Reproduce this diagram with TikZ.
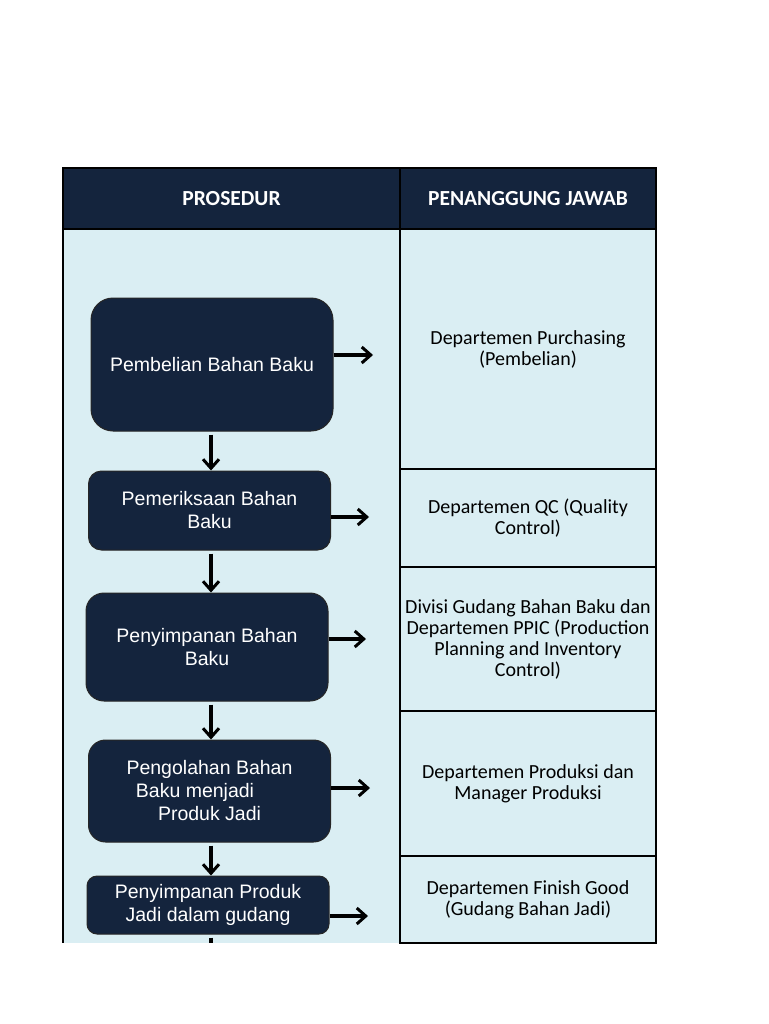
\documentclass[tikz,border=0pt]{standalone}
\usepackage{fontspec}
\setmainfont{Carlito}
\newfontfamily\boxfont{Liberation Sans}
\usetikzlibrary{arrows.meta}
\definecolor{navy}{HTML}{14243D}
\definecolor{paleblue}{HTML}{DAEEF3}

\begin{document}
\begin{tikzpicture}[x=1pt,y=-1pt,
    langkah/.style={rounded corners=#1,fill=navy,draw=black!85,line width=1pt,text=white,
        minimum width=242pt,align=center,font=\boxfont\fontsize{19.5}{23}\selectfont},
    kepala/.style={fill=navy,draw=black,line width=1.5pt,text=white,minimum height=61pt,
        font=\fontsize{21.5}{24}\selectfont\bfseries},
    sel/.style={fill=paleblue,draw=black,line width=1.5pt,minimum width=256pt,align=center,
        font=\fontsize{20}{21}\selectfont},
    panah/.style={line width=3.5pt,-{Straight Barb[length=9pt,width=16pt,line width=3pt]}}]
                \fill[white] (0,0) rectangle (768,1024);
                \useasboundingbox (0,0) rectangle (768,1024);
                % left column
                \fill[paleblue] (63,229) rectangle (400,943);
                \draw[line width=1.5pt] (63,229) -- (63,943);
                % header
                \node[kepala,minimum width=337pt] (hp) at (231.5,198.5) {PROSEDUR};
                \node[kepala,minimum width=256pt] (hq) at (528,198.5) {PENANGGUNG JAWAB};
                % right column
                \node[sel,minimum height=240pt] (r1) at (528,349) {Departemen Purchasing\\(Pembelian)};
                \node[sel,minimum height=98pt] (r2) at (528,518) {Departemen QC (Quality\\Control)};
                \node[sel,minimum height=144pt] (r3) at (528,639) {Divisi Gudang Bahan Baku dan\\Departemen PPIC (Production\\Planning and Inventory\\Control)};
                \node[sel,minimum height=145pt] (r4) at (528,783.5) {Departemen Produksi dan\\Manager Produksi};
                \node[sel,minimum height=87pt] (r5) at (528,899.5) {Departemen Finish Good\\(Gudang Bahan Jadi)};
                % procedure boxes
                \node[langkah=22pt,minimum height=133pt] (b1) at (212,364.5) {Pembelian Bahan Baku};
                \node[langkah=13pt,minimum height=79pt] (b2) at (209.5,510.5) {Pemeriksaan Bahan\\Baku};
                \node[langkah=18pt,minimum height=108pt] (b3) at (207,647) {Penyimpanan Bahan\\Baku};
                \node[langkah=17pt,minimum height=102pt] (b4) at (209.5,791) {Pengolahan Bahan\\\hspace*{-29pt}Baku menjadi\\Produk Jadi};
                \node[langkah=10pt,minimum height=58pt] (b5) at (208,905) {Penyimpanan Produk\\Jadi dalam gudang};
                % arrow ends
                \coordinate (t1) at (373,355);
                \coordinate (t2) at (369,517);
                \coordinate (t3) at (366,639);
                \coordinate (t4) at (370,788);
                \coordinate (t5) at (368,916);
                \coordinate (ujung) at (211,943);
                \foreach \i in {1,...,5}
                    \draw[panah] (b\i.east |- t\i) -- (t\i);
                \draw[panah,shorten <=3pt] (b1.south -| 211,0) -- (b2.north -| 211,0);
                \draw[panah,shorten <=3pt] (b2.south -| 211,0) -- (b3.north -| 211,0);
                \draw[panah,shorten <=3pt] (b3.south -| 211,0) -- (b4.north -| 211,0);
                \draw[panah,shorten <=3pt] (b4.south -| 211,0) -- (b5.north -| 211,0);
                \draw[line width=3.5pt,shorten <=3pt] (b5.south -| ujung) -- (ujung);
\end{tikzpicture}
\end{document}
